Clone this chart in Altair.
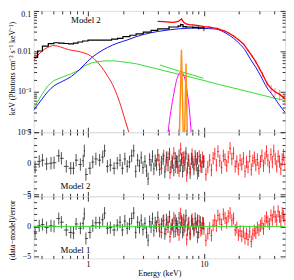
import altair as alt
import pandas as pd
import numpy as np

FONT = "Liberation Serif"

# ---------------- top panel: unfolded spectrum ----------------
black_E = [0.34, 0.368, 0.405, 0.455, 0.508, 0.56, 0.62, 0.68, 0.75, 0.82,
           0.9, 1.0, 1.2, 1.4, 1.6, 1.8, 2.0, 2.3, 2.6, 3.0,
           3.5, 4.0, 5.0, 6.0, 6.3, 6.6, 7.0, 8.0, 9.0, 10.0]
black_F = [0.0071, 0.0102, 0.0134, 0.0155, 0.0163, 0.0160, 0.0156, 0.0153, 0.0160, 0.0170,
           0.0180, 0.0190, 0.0190, 0.0190, 0.0200, 0.0210, 0.0230, 0.0250, 0.0270, 0.0300,
           0.0330, 0.0360, 0.0400, 0.0420, 0.0460, 0.0410, 0.0400, 0.0390, 0.0380, 0.0360]
black_err = [0, 0, 0, 0, 0, 0, 0, 0, 0, 0,
             0, 0, 0, 0, 0, 0, 0, 0, 0, 0,
             0, 0, 0.04, 0.05, 0.06, 0.06, 0.06, 0.07, 0.09, 0.12]

red_E = [4.0, 4.5, 5.0, 5.5, 6.0, 6.4, 6.7, 7.0, 7.5, 8.0,
         9.0, 10, 11, 12, 13, 14, 15, 16.5, 18, 20,
         22, 24, 26, 28, 30, 32, 35, 38, 41, 45,
         50]
red_F = [0.055, 0.054, 0.053, 0.052, 0.055, 0.063, 0.052, 0.048, 0.046, 0.045,
         0.043, 0.041, 0.040, 0.038, 0.037, 0.034, 0.032, 0.028, 0.024, 0.019,
         0.015, 0.0105, 0.0076, 0.0055, 0.0038, 0.0027, 0.0016, 0.0012, 0.00100, 0.00086,
         0.00066]
red_err = [0.03, 0.03, 0.03, 0.03, 0.03, 0.04, 0.03, 0.03, 0.03, 0.03,
           0.03, 0.03, 0.03, 0.03, 0.03, 0.04, 0.04, 0.04, 0.05, 0.05,
           0.06, 0.07, 0.08, 0.10, 0.12, 0.14, 0.18, 0.22, 0.25, 0.30,
           0.35]

blue_E = [0.34, 0.4, 0.45, 0.51, 0.6, 0.72, 0.85, 1.0, 1.2, 1.47,
          1.8, 2.17, 2.6, 3.0, 4.0, 5.0, 6.0, 7.0, 8.0, 10,
          12, 13, 15.5, 18, 20, 22.5, 25, 28, 31, 34.7,
          39.4, 44, 50]
blue_F = [3.5e-4, 6.5e-4, 1.0e-3, 1.4e-3, 1.8e-3, 2.4e-3, 3.6e-3, 5.8e-3, 8.8e-3, 0.0124,
          0.016, 0.019, 0.023, 0.026, 0.031, 0.034, 0.036, 0.037, 0.0375, 0.037,
          0.036, 0.035, 0.028, 0.021, 0.016, 0.011, 0.0066, 0.0040, 0.0024, 0.0013,
          0.0008, 0.0005, 0.00031]

green_E = [0.34, 0.4, 0.45, 0.51, 0.6, 0.72, 0.85, 0.94, 1.1, 1.39,
           1.7, 2.0, 2.63, 3.5, 5, 7, 10, 13.6, 20, 30,
           40, 50]
green_F = [3.9e-4, 8.5e-4, 1.4e-3, 1.9e-3, 2.3e-3, 2.8e-3, 3.5e-3, 4.4e-3, 5.3e-3, 5.8e-3,
           5.8e-3, 5.5e-3, 4.9e-3, 4.0e-3, 3.1e-3, 2.45e-3, 1.9e-3, 1.5e-3, 1.15e-3, 8.6e-4,
           7.0e-4, 6.1e-4]
green2_E = [4.18, 6.0, 8.0, 9.9]
green2_F = [4.6e-3, 3.3e-3, 2.6e-3, 2.15e-3]

soft_E = [0.34, 0.37, 0.4, 0.45, 0.51, 0.58, 0.68, 0.82, 0.94, 1.05,
          1.14, 1.3, 1.47, 1.63, 1.79, 1.97, 2.1, 2.25]
soft_F = [5.8e-3, 8e-3, 0.0100, 0.0125, 0.0139, 0.0128, 0.011, 0.0100, 0.009, 0.0078,
          6.4e-3, 4.2e-3, 2.5e-3, 1.5e-3, 8e-4, 3.5e-4, 1.9e-4, 1.0e-4]

gauss_E = [4.9, 5.2, 5.5, 5.8, 6.1, 6.35, 6.6, 6.9, 7.2, 7.5, 7.75]
gauss_F = [1e-4, 3.5e-4, 9e-4, 1.9e-3, 2.8e-3, 3.2e-3, 2.8e-3, 1.9e-3, 9e-4, 3.5e-4, 1e-4]

fe1_E = [6.15, 6.3, 6.4, 6.5, 6.62]
fe1_F = [1e-4, 1.5e-3, 0.011, 1.5e-3, 1e-4]
fe2_E = [6.82, 6.93, 7.0, 7.07, 7.18]
fe2_F = [1e-4, 1e-3, 5e-3, 1e-3, 1e-4]

# ---------------- residual panels ----------------
resb_E = [0.35, 0.38, 0.405, 0.44, 0.48, 0.51, 0.56, 0.59, 0.65, 0.71,
          0.75, 0.79, 0.86, 0.91, 0.93, 0.96, 1.04, 1.10, 1.17, 1.26,
          1.34, 1.39, 1.47, 1.56, 1.68, 1.79, 1.89, 1.98, 2.08, 2.18,
          2.28, 2.38, 2.48, 2.58, 2.68, 2.78, 2.88, 2.98, 3.1, 3.2,
          3.3, 3.4, 3.5, 3.6, 3.7, 3.8, 3.9, 4.0, 4.15, 4.3,
          4.45, 4.6, 4.75, 4.9, 5.05, 5.2, 5.35, 5.5, 5.65, 5.8,
          5.95, 6.1, 6.25, 6.4, 6.55, 6.7, 6.85, 7.0, 7.2, 7.4,
          7.6, 7.8, 8.0, 8.2, 8.4, 8.6, 8.8, 9.0, 9.3, 9.6,
          9.9]
resb_m2 = [-0.6, 0.3, 0.5, -0.1, 0.0, 0.1, 1.2, 0.8, -0.5, -0.8,
           -0.8, 0.5, -0.2, 0.4, 2.0, -1.8, -0.8, 0.2, 0.7, 0.5,
           1.0, 2.0, -0.5, -0.3, -0.8, 0.0, 0.5, -0.8, 0.7, -0.5,
           0.2, 1.2, 2.0, -1.3, 0.5, -0.4, 0.9, -0.7, 0.3, -1.2,
           -2.5, 0.6, -0.3, 1.1, -0.9, 0.4, -0.2, 1.3, -1.0, 0.2,
           0.7, -1.4, 0.9, -0.3, 1.5, -0.6, 0.1, -1.1, 0.8, 0.3,
           -0.7, 1.2, -0.4, 0.6, -1.3, 0.9, -0.2, 1.6, -0.8, 0.4,
           -1.5, 0.7, 0.2, -0.9, 1.1, -0.3, 0.8, -1.2, 0.5, -0.6,
           0.3]
resb_m1 = [-0.9, 0.1, 0.3, -0.2, 0.1, 0.0, 1.3, 0.7, -0.6, -1.0,
           -1.1, 0.4, -0.3, 0.5, 2.1, -2.0, -1.0, 0.1, 0.6, 0.6,
           1.1, 2.2, -0.3, -0.2, -0.6, 0.2, 0.7, -0.6, 0.9, -0.3,
           0.4, 1.3, 2.2, -1.0, 0.7, -0.2, 1.0, -0.5, 0.5, -1.0,
           -2.3, 0.8, -0.1, 1.3, -0.7, 0.6, 0.0, 1.5, -0.8, 0.4,
           0.9, -1.2, 1.1, -0.1, 1.6, -0.4, 0.3, -0.9, 1.0, 0.5,
           -0.5, 1.4, -0.2, 0.9, -1.0, 1.1, 0.0, 1.8, -0.6, 0.6,
           -1.3, 0.9, 0.4, -0.7, 1.3, -0.1, 1.0, -1.0, 0.7, -0.4,
           0.5]

resr_E = [4.1, 4.3, 4.5, 4.7, 4.9, 5.1, 5.3, 5.5, 5.7, 5.9,
          6.1, 6.3, 6.5, 6.7, 6.9, 7.1, 7.3, 7.6, 7.9, 8.2,
          8.5, 8.8, 9.1, 9.4, 9.7, 10.0, 10.4, 10.8, 11.2, 11.6,
          12.0, 12.4, 12.8, 13.2, 13.7, 14.2, 14.7, 15.2, 15.7, 16.2,
          16.8, 17.4, 18.0, 18.6, 19.2, 19.8, 20.5, 21.2, 21.9, 22.6,
          23.3, 24.0, 24.8, 25.6, 26.4, 27.2, 28.0, 28.9, 29.8, 30.7,
          31.6, 32.6, 33.6, 34.6, 35.6, 36.7, 37.8, 38.9, 40.0, 41.2,
          42.4, 43.6, 44.8, 46.0, 47.3, 48.6, 50.0]
resr_m2 = [0.5, -0.8, 1.2, -0.3, 0.9, -1.5, 0.4, 1.6, -0.6, 0.2,
           -1.2, 2.3, 0.8, -0.4, 1.0, -2.0, 0.6, -0.9, 1.4, -0.2,
           0.7, -1.6, 1.1, -0.5, 0.9, 0.3, -1.8, -0.6, 0.5, -1.1,
           0.8, 1.5, -0.3, 1.9, 0.4, -0.7, 1.2, 0.6, -0.4, 1.0,
           2.4, 0.7, 1.6, -0.5, 0.3, -0.9, 0.5, -0.2, 0.8, -1.3,
           0.2, -0.6, 1.1, -1.0, 0.4, 0.9, -0.3, 0.6, -0.8, 0.3,
           1.2, -0.4, 0.8, 1.9, 0.5, -0.6, 1.4, 0.2, 2.0, 0.7,
           -0.5, 1.1, 0.3, -0.9, 0.6, 1.3, -0.2]
resr_m1 = [0.3, -1.0, 1.0, -0.5, 0.7, -1.7, 0.2, 1.4, -0.8, 0.0,
           -1.4, 2.1, 0.6, -0.6, 0.8, -2.2, 0.4, -1.1, 1.2, -0.4,
           0.5, -1.8, 0.9, -0.7, 0.6, -0.4, -2.3, -1.2, -0.3, -1.5,
           0.2, 1.0, 0.1, 1.8, 1.2, 0.3, 2.0, 1.4, 0.6, 1.7,
           2.2, 1.0, 1.3, -0.6, -0.2, -1.4, -0.8, -1.6, -0.9, -2.0,
           -1.2, -2.2, -0.9, -2.5, -1.3, -0.7, -1.1, -0.2, -0.6, 0.1,
           0.5, -0.4, 0.9, 1.5, 0.8, 0.4, 1.8, 1.1, 2.4, 1.6,
           1.0, 2.5, 1.6, 0.9, 2.2, 1.7, 1.2]
zero_line = [0.0]

x_major = [1, 10]
x_minor = [0.4, 0.5, 0.6, 0.7, 0.8, 0.9, 2, 3, 4, 5, 6, 7, 8, 9, 20, 30, 40]
ytop_major = [1e-4, 1e-3, 1e-2, 1e-1]
ytop_minor = [2e-4, 3e-4, 4e-4, 5e-4, 6e-4, 7e-4, 8e-4, 9e-4,
              2e-3, 3e-3, 4e-3, 5e-3, 6e-3, 7e-3, 8e-3, 9e-3,
              0.02, 0.03, 0.04, 0.05, 0.06, 0.07, 0.08, 0.09]
r_major = [-5, 0, 5]
r_minor = [-4, -3, -2, -1, 1, 2, 3, 4]

W = 255
H_TOP, H_MID, H_BOT = 123, 65, 63

xscale = alt.Scale(type="log", domain=[0.34, 50], nice=False)
ytop = alt.Scale(type="log", domain=[1e-4, 0.1], nice=False)
rsc = alt.Scale(domain=[-5.3, 5], nice=False, zero=False)


def tick_axis(orient, values, size):
    return alt.Axis(orient=orient, values=values, labels=False, domain=False, grid=False,
                    ticks=True, tickSize=size, offset=-size, tickColor="black",
                    tickWidth=0.8, title=None)


def axis_layers(df, xf, yf, yscale, x_lab, y_lab, ymaj, ymin):
    base = alt.Chart(df).mark_point(opacity=0, size=1, clip=True)

    def enc(xa, ya):
        return base.encode(x=alt.X(xf, type="quantitative", scale=xscale, axis=xa),
                           y=alt.Y(yf, type="quantitative", scale=yscale, axis=ya))
    return [
        enc(x_lab, y_lab),
        enc(tick_axis("bottom", x_major, 5), tick_axis("left", ymaj, 5)),
        enc(tick_axis("bottom", x_minor, 3), tick_axis("left", ymin, 3)),
        enc(tick_axis("top", x_major, 5), tick_axis("right", ymaj, 5)),
        enc(tick_axis("top", x_minor, 3), tick_axis("right", ymin, 3)),
    ]


def X(f):
    return alt.X(f, type="quantitative", scale=xscale, axis=None)


def edges(E):
    E = np.array(E, dtype=float)
    mid = np.sqrt(E[1:] * E[:-1])
    lo = np.concatenate([[E[0] ** 2 / mid[0]], mid])
    hi = np.concatenate([mid, [E[-1] ** 2 / mid[-1]]])
    return lo, hi


# ---- top panel ----
def line_layer(E, F, color, width=1.0, interp="linear"):
    df = pd.DataFrame({"E": E, "F": F})
    return alt.Chart(df).mark_line(color=color, strokeWidth=width, clip=True,
                                   interpolate=interp).encode(
        x=X("E"), y=alt.Y("F", type="quantitative", scale=ytop, axis=None))


def err_layer(E, F, err, color, opacity=1.0):
    df = pd.DataFrame({"E": E, "F": F, "err": err})
    df = df[df.err > 0].copy()
    df["lo"] = df.F * (1 - df.err)
    df["hi"] = df.F * (1 + df.err)
    return alt.Chart(df).mark_rule(color=color, strokeWidth=0.8, opacity=opacity, clip=True).encode(
        x=X("E"), y=alt.Y("lo", type="quantitative", scale=ytop, axis=None), y2="hi")


top_y_axis = alt.Axis(
    orient="left", values=ytop_major, ticks=False, domain=False, grid=False,
    labelExpr="datum.value > 0.05 ? '0.1' : datum.value > 0.005 ? '0.01' : datum.value > 0.0005 ? '10⁻³' : '10⁻⁴'",
    labelFont=FONT, labelFontSize=8, labelPadding=3, labelColor="black",
    labelBaseline={"condition": {"test": "datum.value > 0.05", "value": "top"}, "value": "middle"},
    title="keV (Photons cm⁻² s⁻¹ keV⁻¹)", titleFont=FONT, titleFontSize=8,
    titleFontWeight="normal", titleColor="black", titleX=-17, titleY=58)

df_blue = pd.DataFrame({"E": blue_E, "F": blue_F})
top_layers = axis_layers(df_blue, "E", "F", ytop, None, top_y_axis, ytop_major, ytop_minor)
top_layers += [
    line_layer(green_E, green_F, "#33dd33"),
    line_layer(green2_E, green2_F, "#33dd33"),
    line_layer(blue_E, blue_F, "#1010f0", interp="monotone"),
    line_layer(soft_E, soft_F, "#ff1a1a", interp="monotone"),
    line_layer(gauss_E, gauss_F, "#ff00ff", interp="monotone"),
    line_layer(fe1_E, fe1_F, "#ff9010", 1.5),
    line_layer(fe2_E, fe2_F, "#ff9010", 1.5),
    err_layer(red_E, red_F, red_err, "#ff3030", 0.7),
    line_layer(red_E, red_F, "#ff0000", 1.3),
    err_layer(black_E, black_F, black_err, "black"),
    line_layer(black_E, black_F, "black", 1.2, "step-after"),
]
lab_top = pd.DataFrame({"E": [0.96], "F": [0.06], "t": ["Model 2"]})
top_layers.append(alt.Chart(lab_top).mark_text(font=FONT, fontSize=9, color="black").encode(
    x=X("E"), y=alt.Y("F", type="quantitative", scale=ytop, axis=None), text="t"))

top = alt.layer(*top_layers).resolve_axis(x="independent", y="independent").properties(
    width=W, height=H_TOP)


# ---- residual panels ----
def resid_panel(black_r, red_r, label, bottom, height):
    lo, hi = edges(resb_E)
    dfb = pd.DataFrame({"E": resb_E, "r": black_r, "lo": lo, "hi": hi})
    dfb["r1"] = dfb.r - 1
    dfb["r2"] = dfb.r + 1
    lo, hi = edges(resr_E)
    dfr = pd.DataFrame({"E": resr_E, "r": red_r, "lo": lo, "hi": hi})
    dfr["r1"] = dfr.r - 1
    dfr["r2"] = dfr.r + 1

    Y = lambda f: alt.Y(f, type="quantitative", scale=rsc, axis=None)
    if bottom:
        x_lab = alt.Axis(orient="bottom", values=x_major, ticks=False, domain=False, grid=False,
                         format="~g", labelFont=FONT, labelFontSize=8, labelPadding=2,
                         labelColor="black", labelFlush=False,
                         title="Energy (keV)", titleFont=FONT, titleFontSize=8,
                         titleFontWeight="normal", titleColor="black", titlePadding=1)
        y_lab = alt.Axis(orient="left", values=r_major, ticks=False, domain=False, grid=False,
                         format="d", labelFont=FONT, labelFontSize=8, labelPadding=3,
                         labelColor="black",
                         title="(data−model)/error", titleFont=FONT, titleFontSize=8,
                         titleFontWeight="normal", titleColor="black", titleX=-17, titleY=34)
    else:
        x_lab = None
        y_lab = alt.Axis(orient="left", values=r_major, ticks=False, domain=False, grid=False,
                         format="d", labelFont=FONT, labelFontSize=8, labelPadding=3,
                         labelColor="black", title=None)
    layers = axis_layers(dfb, "E", "r", rsc, x_lab, y_lab, r_major, r_minor)
    for df, col in ((dfb, "#222222"), (dfr, "#ff0000")):
        c = alt.Chart(df)
        layers.append(c.mark_rule(color=col, strokeWidth=0.8, clip=True).encode(
            x=X("E"), y=Y("r1"), y2="r2"))
        layers.append(c.mark_rule(color=col, strokeWidth=0.8, clip=True).encode(
            x=X("lo"), x2="hi", y=Y("r")))
    if bottom:
        dz = pd.DataFrame({"z": zero_line})
        layers.append(alt.Chart(dz).mark_rule(color="#33dd33", strokeWidth=1).encode(y=Y("z")))
    dl = pd.DataFrame({"E": [0.78], "r": [-3.6 if not bottom else -4.0], "t": [label]})
    layers.append(alt.Chart(dl).mark_text(font=FONT, fontSize=9, color="black").encode(
        x=X("E"), y=Y("r"), text="t"))
    return alt.layer(*layers).resolve_axis(x="independent", y="independent").properties(
        width=W, height=height)


mid = resid_panel(resb_m2, resr_m2, "Model 2", False, H_MID)
bot = resid_panel(resb_m1, resr_m1, "Model 1", True, H_BOT)

chart = alt.vconcat(top, mid, bot, spacing=0, bounds="flush").configure_view(
    stroke="black", strokeWidth=1).configure(background="white").properties(
    padding={"left": 0, "top": 0, "right": 0, "bottom": 0})

chart.save("out.html", embed_options={"renderer": "svg", "actions": False})
